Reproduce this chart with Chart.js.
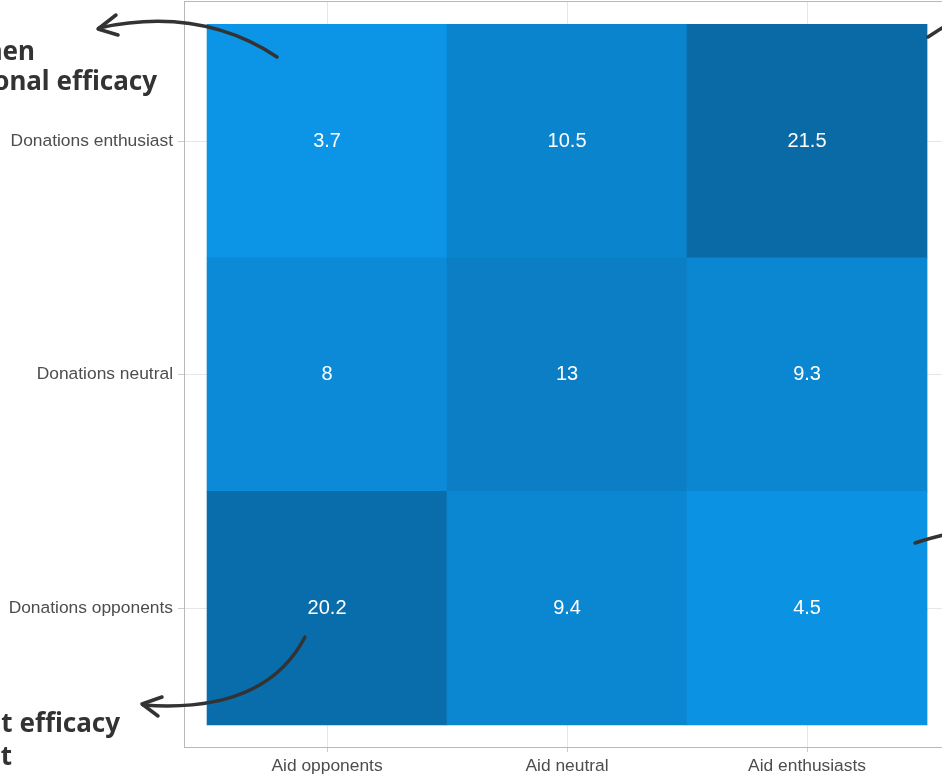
<!DOCTYPE html>
<html>
<head>
<meta charset="utf-8">
<script src="https://cdn.jsdelivr.net/npm/chart.js@4"></script>
<style>
  html, body { margin: 0; padding: 0; background: #fff; overflow: hidden; }
  #wrap { width: 1000px; height: 778px; }
</style>
</head>
<body>
<div id="wrap"><canvas id="heat" width="1000" height="778"></canvas></div>
<script>
// categories
const aidLabels = ['Aid opponents', 'Aid neutral', 'Aid enthusiasts'];
const donationLabels = ['Donations opponents', 'Donations neutral', 'Donations enthusiast'];
// share of respondents, rows bottom -> top
const rowOpponents = [20.2, 9.4, 4.5];
const rowNeutral = [8, 13, 9.3];
const rowEnthusiast = [3.7, 10.5, 21.5];
const rows = [rowOpponents, rowNeutral, rowEnthusiast];

const lowColor = [12, 148, 230];
const highColor = [10, 106, 166];
const allVals = rows.flat();
const vMin = Math.min(...allVals), vMax = Math.max(...allVals);

function fillFor(v) {
    const t = (v - vMin) / (vMax - vMin);
    const c = lowColor.map((a, i) => Math.round(a + (highColor[i] - a) * t));
    return 'rgb(' + c.join(',') + ')';
}

const datasets = rows.map((vals, r) => ({
    data: vals.map((v, c) => ({ x: c + 0.5, y: [r, r + 1], v: v })),
    backgroundColor: vals.map(fillFor),
    borderWidth: 0,
    grouped: false,
    barPercentage: 1,
    categoryPercentage: 1
}));

const tickFont = { family: 'Liberation Sans, Arial, sans-serif', size: 17.4 };

const decor = {
    id: 'decor',
    beforeDatasetsDraw(chart) {
        const { ctx, chartArea: a } = chart;
        ctx.save();
        ctx.strokeStyle = '#b8b8b8';
        ctx.lineWidth = 1;
        ctx.strokeRect(a.left + 0.5, a.top + 0.5, a.right - a.left, a.bottom - a.top);
        ctx.restore();
    },
    afterDraw(chart) {
        const { ctx } = chart;
        // cell values
        ctx.save();
        ctx.fillStyle = '#ffffff';
        ctx.font = '20px Liberation Sans, Arial, sans-serif';
        ctx.textAlign = 'center';
        ctx.textBaseline = 'middle';
        chart.data.datasets.forEach((ds, i) => {
            chart.getDatasetMeta(i).data.forEach((bar, j) => {
                const p = bar.getProps(['x', 'y', 'base'], true);
                ctx.fillText(String(ds.data[j].v), p.x, (p.y + p.base) / 2);
            });
        });
        ctx.restore();

        // hand drawn annotations
        ctx.save();
        ctx.strokeStyle = '#333333';
        ctx.fillStyle = '#333333';
        ctx.lineWidth = 3.5;
        ctx.lineCap = 'round';
        ctx.lineJoin = 'round';

        ctx.beginPath();
        ctx.moveTo(277, 57);
        ctx.quadraticCurveTo(200, 6, 99, 28);
        ctx.stroke();
        ctx.beginPath();
        ctx.moveTo(116, 15);
        ctx.lineTo(98, 29);
        ctx.lineTo(118, 35);
        ctx.stroke();

        ctx.beginPath();
        ctx.moveTo(305, 637);
        ctx.quadraticCurveTo(265, 714, 143, 705);
        ctx.stroke();
        ctx.beginPath();
        ctx.moveTo(162, 697);
        ctx.lineTo(142, 704);
        ctx.lineTo(158, 716);
        ctx.stroke();

        ctx.beginPath();
        ctx.moveTo(928, 37);
        ctx.quadraticCurveTo(940, 29, 952, 22);
        ctx.stroke();
        ctx.beginPath();
        ctx.moveTo(915, 543);
        ctx.quadraticCurveTo(930, 538, 952, 533);
        ctx.stroke();

        ctx.font = 'bold 26px "Comic Sans MS", "Noto Sans", sans-serif';
        ctx.textAlign = 'right';
        ctx.textBaseline = 'alphabetic';
        ctx.fillText('hen', 35, 60);
        ctx.fillText('onal efficacy', 157, 90);
        ctx.fillText('t efficacy', 120, 732);
        ctx.fillText('t', 12, 765);
        ctx.restore();
    }
};

new Chart(document.getElementById('heat'), {
    type: 'bar',
    data: { datasets: datasets },
    plugins: [decor],
    options: {
        responsive: false,
        animation: false,
        layout: { padding: { top: 1, right: 48, left: 0, bottom: 0 } },
        plugins: { legend: { display: false }, tooltip: { enabled: false } },
        scales: {
            x: {
                type: 'linear',
                offset: false,
                min: -0.096,
                max: 3.104,
                afterBuildTicks: s => { s.ticks = [0.5, 1.5, 2.5].map(v => ({ value: v })); },
                afterFit: s => { s.height = 31; s.paddingLeft = 0; s.paddingRight = 0; },
                ticks: {
                    callback: (v, i) => aidLabels[i],
                    color: '#4d4d4d',
                    font: tickFont,
                    padding: 4,
                    maxRotation: 0
                },
                grid: { offset: false, color: '#e6e6e6', tickLength: 5, tickColor: '#cccccc' },
                border: { display: false }
            },
            y: {
                type: 'linear',
                min: -0.095,
                max: 3.1,
                afterBuildTicks: s => { s.ticks = [0.5, 1.5, 2.5].map(v => ({ value: v })); },
                afterFit: s => { s.width = 184; s.paddingTop = 0; s.paddingBottom = 0; },
                ticks: {
                    callback: (v, i) => donationLabels[i],
                    color: '#4d4d4d',
                    font: tickFont,
                    padding: 5
                },
                grid: { color: '#e6e6e6', tickLength: 6, tickColor: '#cccccc' },
                border: { display: false }
            }
        }
    }
});
</script>
</body>
</html>
